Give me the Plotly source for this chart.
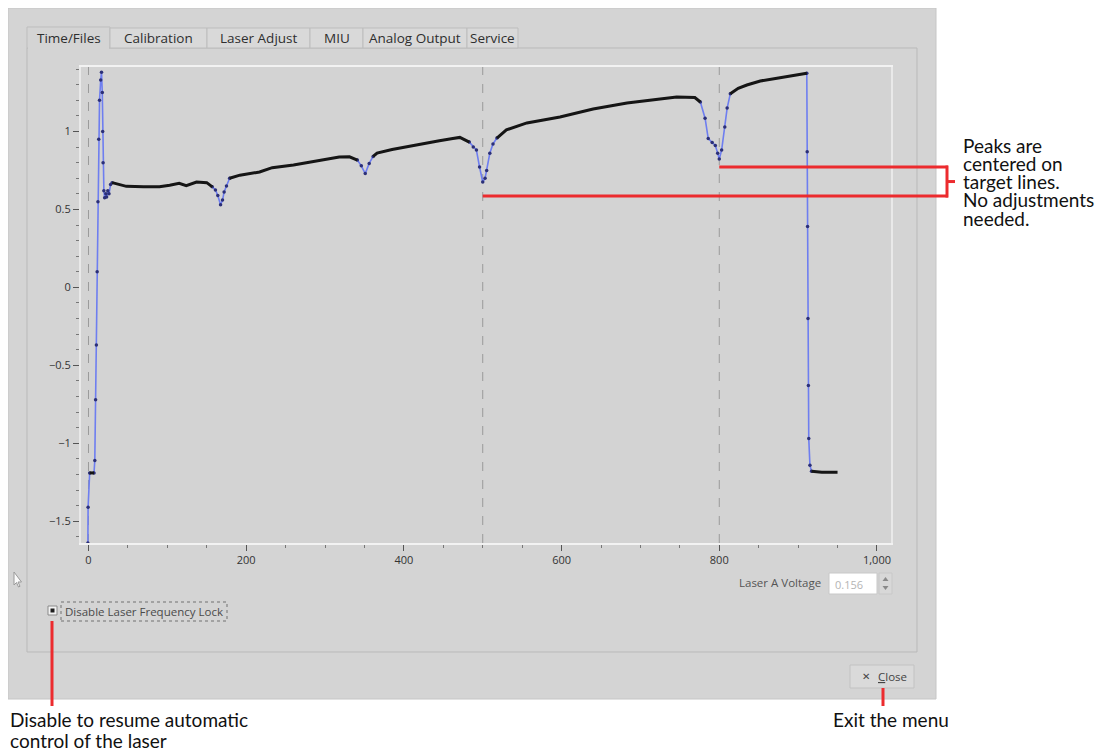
import numpy as np
import plotly.graph_objects as go

# the page body adds an 8px margin, so the figure is drawn 8px in from the window corner
OFF = 8
W, H = 1108 - OFF, 751 - OFF

# Laser scan trace (signal vs. point index)
curve_x = [-0.8, -0.5, 1.5, 6, 7, 8, 9, 10, 11, 12, 13, 14, 15.5, 16.5, 17.5, 18, 18.5,
           19.5, 20.5, 22, 23, 24.5, 26, 28, 30, 35, 48, 70, 90, 103, 115, 124, 137,
           150, 157, 161, 164, 167.5, 170, 172, 175, 179, 192, 217, 233, 260, 277,
           300, 318, 331, 341, 346, 351, 356, 361, 366, 385, 404, 425, 445, 462, 471,
           483, 488, 492, 496, 500, 503, 505, 509, 513, 518, 530, 556, 598, 640, 683,
           725, 746, 769, 776, 782, 786, 791, 795, 798, 800, 803, 807, 810, 814, 824,
           835, 852, 877, 895, 911, 911.5, 912, 912.5, 913, 913.5, 915, 917, 930, 950]
curve_y = [-1.64, -1.41, -1.19, -1.19, -1.19, -1.11, -0.72, -0.37, 0.1, 0.55, 0.95, 1.2,
           1.33, 1.38, 1.25, 1.0, 0.8, 0.62, 0.575, 0.60, 0.58, 0.62, 0.60, 0.66, 0.672,
           0.665, 0.648, 0.646, 0.646, 0.655, 0.668, 0.652, 0.676, 0.672, 0.645, 0.625,
           0.59, 0.53, 0.56, 0.612, 0.65, 0.70, 0.72, 0.74, 0.768, 0.785, 0.80, 0.818,
           0.836, 0.838, 0.817, 0.78, 0.73, 0.795, 0.84, 0.862, 0.885, 0.901, 0.92, 0.94,
           0.955, 0.962, 0.932, 0.90, 0.881, 0.772, 0.676, 0.70, 0.75, 0.86, 0.92, 0.958,
           1.01, 1.055, 1.093, 1.144, 1.183, 1.208, 1.221, 1.218, 1.189, 1.085, 0.955,
           0.93, 0.91, 0.86, 0.824, 0.881, 1.029, 1.15, 1.242, 1.277, 1.298, 1.324, 1.345,
           1.36, 1.373, 0.87, 0.39, -0.2, -0.63, -0.97, -1.14, -1.18, -1.185, -1.185]

target_lines = [0, 500, 800]

x_ticks = [0, 200, 400, 600, 800, 1000]
tab_labels = ["Time/Files", "Calibration", "Laser Adjust", "MIU", "Analog Output", "Service"]
note_lines = ["Peaks are", "centered on", "target lines.", "No adjustments", "needed."]
left_note = ["Disable to resume automatic", "control of the laser"]
close_note = "Exit the menu"

# plot box in screen pixels
PX_L, PX_R, PX_T, PX_B = 81, 891, 67, 543
XMIN, XMAX = -9.5, 1017.8
YMIN, YMAX = -1.6395, 1.4137


def fx(p):
    return (p - OFF) / W


def fy(p):
    return 1 - (p - OFF) / H


def data_px(x):
    return PX_L + (x - XMIN) * (PX_R - PX_L) / (XMAX - XMIN)


def data_py(y):
    return PX_B - (y - YMIN) * (PX_B - PX_T) / (YMAX - YMIN)


def rect(x0, y0, x1, y1, fill, line="rgba(0,0,0,0)", width=1, dash="solid", layer="below"):
    return dict(type="rect", xref="paper", yref="paper", x0=fx(x0), x1=fx(x1),
                y0=fy(y1), y1=fy(y0), fillcolor=fill, layer=layer,
                line=dict(color=line, width=width, dash=dash))


def seg(x0, y0, x1, y1, color, width, layer="above"):
    return dict(type="line", xref="paper", yref="paper", x0=fx(x0), x1=fx(x1),
                y0=fy(y0), y1=fy(y1), layer=layer, line=dict(color=color, width=width))


def text(s, x, y, size, color="#333", anchor="left", family="Open Sans"):
    return dict(text=s, x=fx(x), y=fy(y), xref="paper", yref="paper", showarrow=False,
                xanchor=anchor, yanchor="middle", font=dict(size=size, color=color, family=family))


# split the trace into steep (blue) and flat (black) runs, in screen slope
cx = np.array(curve_x)
cy = np.array(curve_y)
kx = (PX_R - PX_L) / (XMAX - XMIN)
ky = (PX_B - PX_T) / (YMAX - YMIN)
steep = np.abs(np.diff(cy) * ky / (np.diff(cx) * kx)) > 0.9


def runs(mask):
    rx, ry = [], []
    prev = False
    for i, m in enumerate(mask):
        if m:
            if not prev:
                if rx:
                    rx.append(None)
                    ry.append(None)
                rx.append(curve_x[i])
                ry.append(curve_y[i])
            rx.append(curve_x[i + 1])
            ry.append(curve_y[i + 1])
        prev = m
    return rx, ry


blue_x, blue_y = runs(steep)
black_x, black_y = runs(~steep)

fig = go.Figure()

fig.add_trace(go.Scatter(
    x=blue_x, y=blue_y, mode="lines+markers",
    line=dict(color="#6e7ef0", width=1.6),
    marker=dict(size=3.5, color="#2b2f78"),
    hoverinfo="skip"
))
fig.add_trace(go.Scatter(
    x=black_x, y=black_y, mode="lines",
    line=dict(color="#151515", width=3),
    hoverinfo="skip"
))

shapes = []
# window panels
shapes.append(rect(8, 8, 936, 699, "#d4d4d4", "#c6c6c6"))
shapes.append(rect(27, 48, 917, 652, "#d4d4d4", "#b9b9b9"))
# tabs
tab_edges = [27, 110, 207, 310, 363, 467, 518]
for i in range(len(tab_labels)):
    fill = "#d4d4d4" if i == 0 else "#d9d9d9"
    shapes.append(rect(tab_edges[i], 27 if i == 0 else 28, tab_edges[i + 1], 48, fill, "#bdbdbd"))
shapes.append(seg(28, 48, 109, 48, "#d4d4d4", 2, layer="below"))
# plot area
shapes.append(rect(PX_L, PX_T, PX_R, PX_B, "#d3d3d3"))
# target lines
for t in target_lines:
    shapes.append(dict(type="line", xref="x", yref="paper", x0=t, x1=t,
                       y0=fy(PX_B), y1=fy(PX_T), layer="below",
                       line=dict(color="#9a9a9a", width=1, dash="dash")))
# voltage spin box
shapes.append(rect(829, 573, 877, 594, "#ffffff", "#c8c8c8"))
shapes.append(rect(879, 573, 892, 594, "#d8d8d8", "#c8c8c8"))
shapes.append(dict(type="path", xref="paper", yref="paper", layer="below",
                   path=f"M {fx(882.5)} {fy(581)} L {fx(885.5)} {fy(577)} L {fx(888.5)} {fy(581)} Z",
                   fillcolor="#8a8a8a", line=dict(width=0)))
shapes.append(dict(type="path", xref="paper", yref="paper", layer="below",
                   path=f"M {fx(882.5)} {fy(586)} L {fx(888.5)} {fy(586)} L {fx(885.5)} {fy(590)} Z",
                   fillcolor="#8a8a8a", line=dict(width=0)))
# checkbox and focus rectangle
shapes.append(rect(48, 606, 57, 615, "#f2f2f2", "#8a8a8a"))
shapes.append(rect(50.5, 608.5, 54.5, 612.5, "#1e1e1e"))
shapes.append(rect(61, 602, 227, 621, "rgba(0,0,0,0)", "#707070", 1, "dot"))
# close button
shapes.append(rect(850, 665, 914, 688, "#dadada", "#c2c2c2"))
# mouse cursor
shapes.append(dict(type="path", xref="paper", yref="paper", layer="below",
                   path=(f"M {fx(14)} {fy(572)} L {fx(14)} {fy(585)} L {fx(16.5)} {fy(582.5)} "
                         f"L {fx(18.5)} {fy(587)} L {fx(20)} {fy(586.3)} L {fx(18)} {fy(582)} "
                         f"L {fx(21.5)} {fy(582)} Z"),
                   fillcolor="#fbfbfb", line=dict(color="#9a9a9a", width=1)))

# red callouts
red = "#ec2b2e"
y_low = data_py(0.586)
y_high = data_py(0.772)
shapes.append(seg(data_px(500), y_low, 948, y_low, red, 3))
shapes.append(seg(data_px(800), y_high, 948, y_high, red, 3))
shapes.append(seg(947, y_high - 1.5, 947, y_low + 1.5, red, 3))
shapes.append(seg(947, (y_low + y_high) / 2, 955, (y_low + y_high) / 2, red, 3))
shapes.append(seg(52, 621, 52, 706, red, 3))
shapes.append(seg(883, 688, 883, 706, red, 3))

annotations = []
for i, lab in enumerate(tab_labels):
    annotations.append(text(lab, (tab_edges[i] + tab_edges[i + 1]) / 2, 38, 13.5,
                            "#2e2e2e", "center"))
annotations.append(text("Laser A Voltage", 823, 582, 11.5, "#555555", "right"))
annotations.append(text("0.156", 833, 584, 11, "#b4b4b4"))
annotations.append(text("Disable Laser Frequency Lock", 63, 611, 11.5, "#4a4a4a"))
annotations.append(text("\u2715", 866, 676, 10, "#444444", "center", "DejaVu Sans"))
annotations.append(text("<span style='text-decoration:underline'>C</span>lose",
                        876, 676, 11.5, "#444444"))
for i, s in enumerate(note_lines):
    annotations.append(text(s, 961, 145 + i * 18.3, 19, "#111111", family="Lato"))
for i, s in enumerate(left_note):
    annotations.append(text(s, 8, 719, 19, "#111111", family="Lato") if i == 0
                       else text(s, 8, 740, 19, "#111111", family="Lato"))
annotations.append(text(close_note, 831, 719, 19, "#111111", family="Lato"))

fig.update_layout(
    width=W, height=H,
    margin=dict(l=0, r=0, t=0, b=0),
    paper_bgcolor="white",
    plot_bgcolor="rgba(0,0,0,0)",
    showlegend=False,
    xaxis=dict(
        domain=[fx(PX_L), fx(PX_R)], range=[XMIN, XMAX],
        showgrid=False, zeroline=False,
        showline=True, linecolor="#f2f2f2", linewidth=2, mirror=True,
        ticks="outside", ticklen=6, tickcolor="#555555",
        tickvals=x_ticks, tickformat=",d",
        tickfont=dict(size=11, color="#333333", family="Open Sans"),
        minor=dict(dtick=50, tick0=0, ticks="outside", ticklen=3, tickcolor="#777777"),
        fixedrange=True,
    ),
    yaxis=dict(
        domain=[fy(PX_B), fy(PX_T)], range=[YMIN, YMAX],
        showgrid=False, zeroline=False,
        showline=True, linecolor="#e9e9e9", linewidth=2, mirror=True,
        ticks="outside", ticklen=6, tickcolor="#555555",
        dtick=0.5, tick0=0,
        tickfont=dict(size=11, color="#333333", family="Open Sans"),
        minor=dict(dtick=0.1, tick0=0, ticks="outside", ticklen=3, tickcolor="#777777"),
        fixedrange=True,
    ),
    shapes=shapes,
    annotations=annotations,
)

fig.write_html("out.html")
